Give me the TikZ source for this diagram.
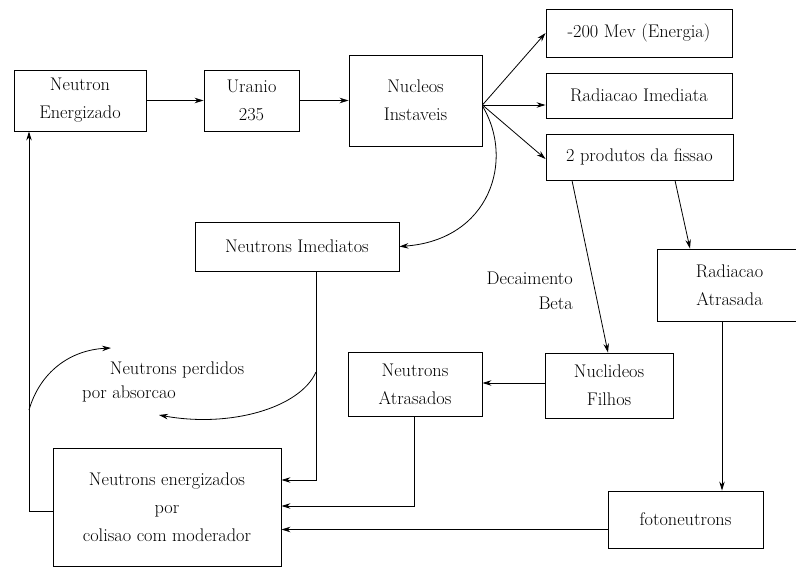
\documentclass[tikz,border=0pt]{standalone}
\usetikzlibrary{arrows.meta}
\begin{document}
\begin{tikzpicture}[x=1pt,y=-1pt,
  box/.style={draw,line width=0.9pt,align=center,inner sep=0pt,
    font=\fontsize{18.3}{28}\selectfont},
  lbl/.style={align=center,inner sep=0pt,font=\fontsize{18.3}{25}\selectfont},
  arr/.style={line width=0.8pt,-{Stealth[length=9pt,width=5.5pt]}},
  ln/.style={line width=0.8pt}]
\useasboundingbox (0,0) rectangle (796,568);
\fill[white] (0,0) rectangle (796,568);
% boxes
\node[box,minimum width=132pt,minimum height=61pt] (ne) at (80,100.5) {Neutron\\Energizado};
\node[box,minimum width=95pt,minimum height=61pt] (u) at (251.5,100.5) {Uranio\\235};
\node[box,minimum width=133pt,minimum height=91pt] (ni) at (415.5,100.5) {Nucleos\\Instaveis};
\node[box,minimum width=186pt,minimum height=48pt] (e) at (639,33) {-200 Mev (Energia)};
\node[box,minimum width=186pt,minimum height=45pt] (ri) at (639,95.5) {Radiacao Imediata};
\node[box,minimum width=187pt,minimum height=46pt] (p) at (639.5,157) {2 produtos da fissao};
\node[box,minimum width=204pt,minimum height=49pt] (nim) at (297,246.5) {Neutrons Imediatos};
\node[box,minimum width=145pt,minimum height=72pt] (ra) at (729.5,285) {Radiacao\\Atrasada};
\node[box,minimum width=128pt,minimum height=65pt] (nf) at (609,385.5) {Nuclideos\\Filhos};
\node[box,minimum width=134pt,minimum height=64pt] (na) at (415,384) {Neutrons\\Atrasados};
\node[box,minimum width=228pt,minimum height=118pt] (nem) at (167,507) {Neutrons energizados\\por\\colisao com moderador};
\node[box,minimum width=155pt,minimum height=57pt] (f) at (685.5,519.5) {fotoneutrons};
% labels
\node[lbl] (lp1) at (177,370) {Neutrons perdidos};
\node[lbl] (lp2) at (129,394) {por absorcao};
\node[lbl,align=right,anchor=north east] (db) at (573,272) {Decaimento\\Beta};
% connectors
\draw[arr] (ne.east) -- (u.west);
\draw[arr] (u.east) -- (ni.west |- u.east);
\coordinate (hub) at ([yshift=-4.5pt]ni.east);
\draw[arr] (hub) -- (e.west);
\draw[arr] (hub) -- (ri.west |- hub);
\draw[arr] (hub) -- ([yshift=-2pt]p.west);
\draw[arr] ([yshift=-1pt]hub) .. controls (515,160) and (490,240) .. (nim.east);
\draw[arr] ([xshift=-67.5pt]p.south) -- ([xshift=-1pt]nf.north);
\draw[arr] ([xshift=35.5pt]p.south) -- ([xshift=-39.5pt]ra.north);
\draw[arr] ([xshift=-7.5pt]ra.south) -- ([xshift=-7.5pt]ra.south |- f.north);
\draw[arr] (nf.west |- 0,383) -- (na.east |- 0,383);
\draw[arr] ([xshift=19pt]nim.south) |- ([yshift=27pt]nem.east);
\draw[arr] ([xshift=-1pt]na.south) |- ([yshift=1pt]nem.east);
\draw[arr] ([yshift=-10pt]f.west) -- ([yshift=-10pt]f.west -| nem.east);
\draw[arr] ([yshift=-4pt]nem.west) -| ([xshift=-51pt]ne.south);
% lost neutrons curves
\coordinate (c1) at (29,410);
\coordinate (c1e) at (111,348);
\draw[arr] (c1) .. controls (40,372) and (70,350) .. (c1e);
\coordinate (c2) at (316,372);
\coordinate (c2e) at (159,415);
\draw[arr] (c2) .. controls (300,408) and (230,428) .. (c2e);
\end{tikzpicture}
\end{document}
